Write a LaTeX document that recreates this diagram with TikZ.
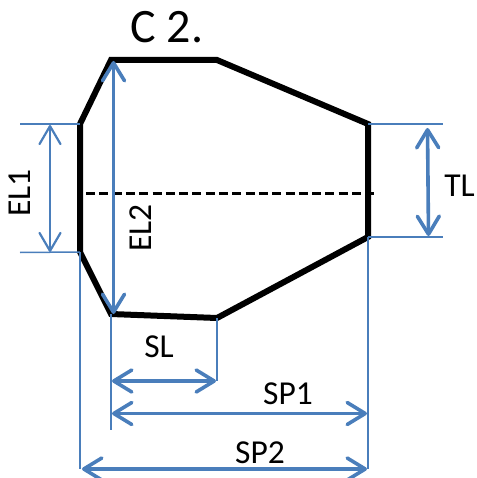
\documentclass[tikz,border=0pt]{standalone}
\usepackage{fontspec}
\setmainfont{Carlito}
\usetikzlibrary{arrows.meta}
\definecolor{dimblue}{HTML}{4A7EBB}
\tikzset{
  x=1pt,y=-1pt,
  outline/.style={draw=black,line width=6pt,line join=miter,miter limit=2},
  centre/.style={draw=black,line width=2.6pt,dash pattern=on 9pt off 4.3pt},
  ext/.style={draw=dimblue,line width=1.5pt},
  dimthin/.style={draw=dimblue,line width=2.2pt,{Straight Barb[length=18pt,width=21pt,round]}-{Straight Barb[length=18pt,width=21pt,round]}},
  dimthick/.style={draw=dimblue,line width=3.6pt,{Straight Barb[length=18pt,width=22pt,round]}-{Straight Barb[length=18pt,width=22pt,round]}},
  lbl/.style={inner sep=0pt,font=\fontsize{33.5}{34}\selectfont,text=black},
  ttl/.style={inner sep=0pt,font=\fontsize{48}{48}\selectfont,text=black}
}
\begin{document}
\begin{tikzpicture}
\useasboundingbox (0,0) rectangle (476,478);
% outline corners
\coordinate (a) at (80,124);
\coordinate (b) at (111,60);
\coordinate (c) at (217,60);
\coordinate (d) at (368,124);
\coordinate (e) at (368,237);
\coordinate (f) at (217,318);
\coordinate (g) at (111,314);
\coordinate (h) at (80,252);
% dimension points
\coordinate (cl) at (86,193.5);
\coordinate (cr) at (378,193.5);
\coordinate (elt) at (20,124);
\coordinate (elb) at (20,252.5);
\coordinate (tlt) at (443,124);
\coordinate (tlb) at (443,237);
\coordinate (v1) at (111,430);
\coordinate (v2) at (217,381);
\coordinate (v3) at (80,469);
\coordinate (v4) at (368,469);
\coordinate (el1a) at (50,125);
\coordinate (el1b) at (50,252);
\coordinate (el2a) at (113.5,61);
\coordinate (el2b) at (113.5,314);
\coordinate (tla) at (427.5,128);
\coordinate (tlc) at (428.5,236);
\coordinate (sla) at (112,381);
\coordinate (slb) at (216,381);
\coordinate (spa) at (112,413.5);
\coordinate (spb) at (367,413.5);
\coordinate (spc) at (82,469);
\coordinate (spd) at (367,469);
\path[outline] (h) -- (a) -- (b) -- (c) -- (d) -- (e) -- (f) -- (g) -- cycle;
\path[centre] (cl) -- (cr);
\path[ext] (elt) -- (a);
\path[ext] (elb) -- (h);
\path[ext] (d) -- (tlt);
\path[ext] (e) -- (tlb);
\path[ext] (g) -- (v1);
\path[ext] (f) -- (v2);
\path[ext] (h) -- (v3);
\path[ext] (e) -- (v4);
\path[dimthin] (el1a) -- (el1b);
\path[dimthick] (el2a) -- (el2b);
\path[dimthick] (tla) -- (tlc);
\path[dimthick] (sla) -- (slb);
\path[dimthick] (spa) -- (spb);
\path[dimthick] (spc) -- (spd);
\node[ttl] (title) at (167,27) {C 2.};
\node[lbl,rotate=90] (el1) at (20,193) {EL1};
\node[lbl,rotate=90] (el2) at (141,228) {EL2};
\node[lbl] (tl) at (459.5,186) {TL};
\node[lbl] (sl) at (159,347) {SL};
\node[lbl] (sp1) at (288,394) {SP1};
\node[lbl] (sp2) at (260,453) {SP2};
\end{tikzpicture}
\end{document}
